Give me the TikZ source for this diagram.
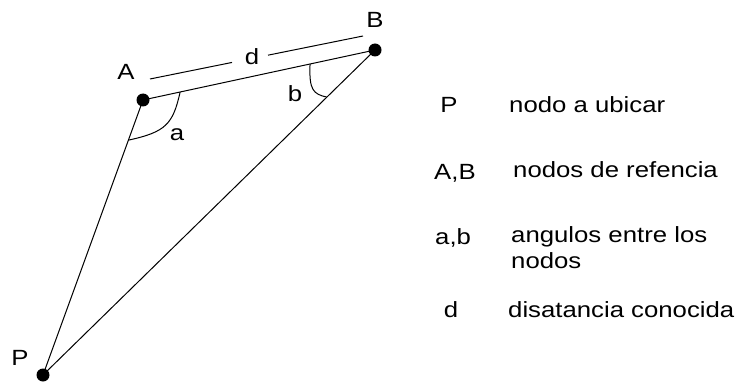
\documentclass[tikz,border=0pt]{standalone}
\usepackage{fontspec}
\setmainfont{Liberation Sans}[FakeStretch=1.17]
\usetikzlibrary{calc}
\tikzset{
  dot/.style={circle,fill=black,inner sep=0pt,minimum size=13pt},
  lbl/.style={inner sep=0pt,anchor=base,font=\fontsize{22}{26}\selectfont},
  leg/.style={inner sep=0pt,anchor=base west,font=\fontsize{22}{26}\selectfont},
  ln/.style={line width=1pt,black}
}
\begin{document}
\begin{tikzpicture}[x=1pt,y=-1pt]
\useasboundingbox (0,0) rectangle (738,385);
% points
\node[dot] (A) at (143,100) {};
\node[dot] (B) at (375,50) {};
\node[dot] (P) at (43,375) {};
% sides
\draw[ln] (A.center) -- (B.center);
\draw[ln] (A.center) -- (P.center);
\draw[ln] (B.center) -- (P.center);
% angle a
\coordinate (a1) at ($(A.center)!0.16!(B.center)$);
\coordinate (a2) at ($(A.center)!0.146!(P.center)$);
\draw[ln] (a1) .. controls (173,124) and (166,132) .. (a2);
% angle b
\coordinate (b1) at ($(A.center)!0.72!(B.center)$);
\coordinate (b2) at ($(B.center)!0.145!(P.center)$);
\draw[ln] (b1) .. controls (309,90) and (313,94) .. (b2);
% distance d
\coordinate (d1) at (150,79);
\coordinate (d2) at (363,36);
\draw[ln] (d1) -- ($(d1)!0.385!(d2)$);
\draw[ln] ($(d1)!0.554!(d2)$) -- (d2);
% labels
\node[lbl] (lA) at (126,80) {A};
\node[lbl] (lB) at (375,28) {B};
\node[lbl] (lP) at (20,365) {P};
\node[lbl] (la) at (177,140) {a};
\node[lbl] (lb) at (295,102) {b};
\node[lbl] (ld) at (252,65) {d};
% legend
\node[lbl] (kP) at (449,113) {P};
\node[leg] (tP) at (509,113) {nodo a ubicar};
\node[leg] (kAB) at (434,179) {A,B};
\node[leg] (tAB) at (513,177) {nodos de refencia};
\node[leg] (kab) at (435,244) {a,b};
\node[leg] (tab1) at (511,242) {angulos entre los};
\node[leg] (tab2) at (511,268) {nodos};
\node[lbl] (kd) at (451,317) {d};
\node[leg] (td) at (508,317) {disatancia conocida};
\end{tikzpicture}
\end{document}
